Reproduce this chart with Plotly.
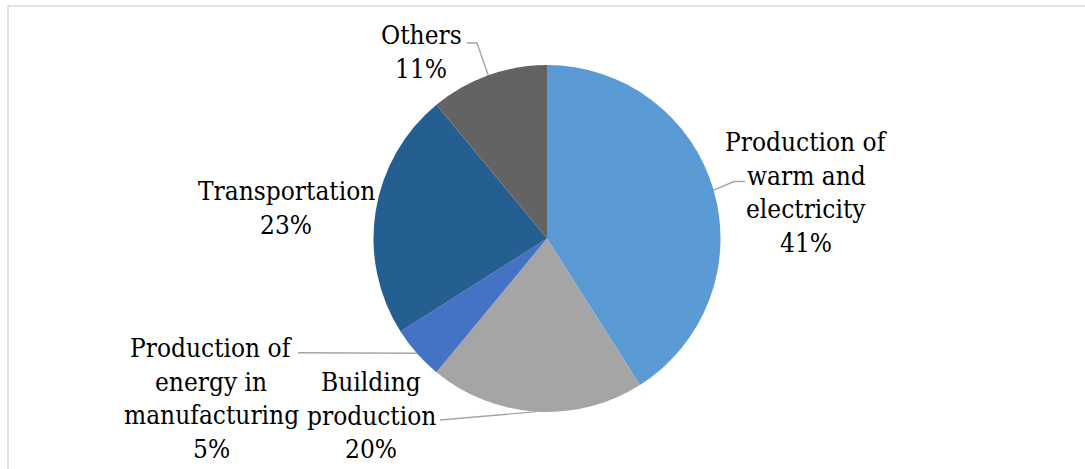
import math
import plotly.graph_objects as go

# Sector shares of emissions, clockwise from 12 o'clock
categories = [
    "Production of warm and electricity",
    "Building production",
    "Production of energy in manufacturing",
    "Transportation",
    "Others",
]
shares = [41, 20, 5, 23, 11]
colors = ["#5B9BD5", "#A5A5A5", "#4472C4", "#255E91", "#636363"]

# Label text split into lines (the last line carries the percentage)
label_lines = [
    ["Production of", "warm and", "electricity"],
    ["Building", "production"],
    ["Production of", "energy in", "manufacturing"],
    ["Transportation"],
    ["Others"],
]

W, H = 1085, 469
CX, CY, R = 547, 238.5, 173.5   # pie centre and radius in pixels

# Label block placement: centre x, y of the first line (pixels)
label_pos = [(806, 142), (371, 382), (211, 348), (286, 191), (421, 35)]
LINE_H = 33.7

# Leader-line bend points (pixels) from the label side towards the slice
leader_from = {
    0: [(745, 181.5), (734, 181.5)],
    1: [(440, 420)],
    2: [(298, 352.7)],
    4: [(467, 43), (477, 43)],
}


def px(x):
    return x / W


def py(y):
    return 1 - y / H


fig = go.Figure(
    go.Pie(
        labels=categories,
        values=shares,
        sort=False,
        direction="clockwise",
        rotation=0,
        marker=dict(colors=colors, line=dict(width=0)),
        textinfo="none",
        hoverinfo="label+percent",
        showlegend=False,
        domain=dict(x=[px(CX - R), px(CX + R)], y=[py(CY + R), py(CY - R)]),
    )
)

SERIF = "DejaVu Serif Condensed"
font = dict(family=SERIF, size=26, color="#000000")
annotations = []
total = sum(shares)
for i, (lines, (lx, ly)) in enumerate(zip(label_lines, label_pos)):
    pct = round(100 * shares[i] / total)
    for k, txt in enumerate(lines + [f"{pct}%"]):
        annotations.append(
            dict(
                x=px(lx), y=py(ly + k * LINE_H), xref="paper", yref="paper",
                text=txt, showarrow=False, xanchor="center", yanchor="middle",
                font=font,
            )
        )

shapes = []
# Leader lines end on the slice edge at each slice's mid-angle
cum = 0
for i, v in enumerate(shares):
    mid = (cum + v / 2) / total * 2 * math.pi
    cum += v
    if i not in leader_from:
        continue
    ex, ey = CX + R * math.sin(mid), CY - R * math.cos(mid)
    pts = leader_from[i] + [(ex, ey)]
    path = "M " + " L ".join(f"{px(x)},{py(y)}" for x, y in pts)
    shapes.append(
        dict(type="path", path=path, xref="paper", yref="paper",
             line=dict(color="#A6A6A6", width=1.4))
    )

# Chart-area frame (top and left edges visible)
shapes.append(
    dict(type="rect", xref="paper", yref="paper",
         x0=px(8), x1=1.02, y0=-0.02, y1=py(6),
         line=dict(color="#D9D9D9", width=1.6), fillcolor="rgba(0,0,0,0)")
)

fig.update_layout(
    width=W, height=H,
    margin=dict(l=0, r=0, t=0, b=0),
    paper_bgcolor="#FFFFFF",
    plot_bgcolor="#FFFFFF",
    font=dict(family=SERIF),
    annotations=annotations,
    shapes=shapes,
)

fig.write_html("out.html")
